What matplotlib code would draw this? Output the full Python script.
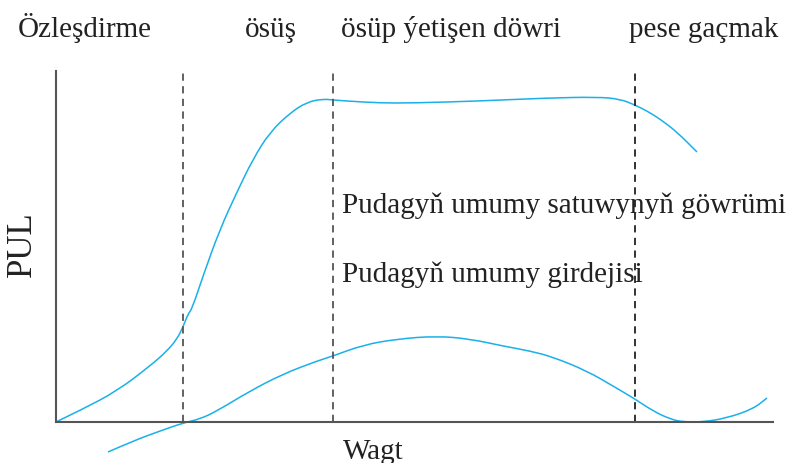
import matplotlib.pyplot as plt
from matplotlib.path import Path
from matplotlib.patches import PathPatch

# time / money values (arbitrary units)
sales_t = [0, 27, 61, 94, 111, 121, 127, 132, 136, 147, 164, 181, 197, 214, 234,
           251, 267, 277, 291, 324, 357, 424, 491, 541, 564, 579, 591, 604, 621, 641]
sales_m = [0, 13, 31, 56, 71, 83, 95, 108, 113, 146, 193, 230, 263, 290, 309,
           320, 323, 322, 321, 319, 319, 321, 324, 325, 323, 317, 311, 303, 290, 270]

profit_t = [52, 77, 104, 127, 144, 161, 194, 227, 261, 277, 307, 341, 381, 414,
            447, 474, 497, 531, 557, 579, 597, 614, 627, 647, 671, 697, 711]
profit_m = [-30, -19, -9, -1, 3, 11, 31, 48, 61, 66, 77, 83, 86, 83,
            76, 71, 65, 51, 36, 23, 11, 3, 0, 0, 4, 13, 24]

phase_bounds = [127, 277, 579]
phase_names = ["Özleşdirme", "ösüş", "ösüp ýetişen döwri", "pese gaçmak"]
phase_x = [18, 245, 341, 629]  # left edge of each header, px

curve_labels = ["Pudagyň umumy satuwynyň göwrümi", "Pudagyň umumy girdejisi"]

W, H = 791, 464
blue = "#1ab0ea"
plt.rcParams["font.family"] = ["Liberation Serif", "DejaVu Serif"]


def smooth_curve(ax, xs, ys, **kw):
    # quadratic bezier through the midpoints, the read points act as controls
    pts = list(zip(xs, ys))
    verts = [pts[0]]
    codes = [Path.MOVETO]
    for i in range(1, len(pts) - 1):
        mid = ((pts[i][0] + pts[i + 1][0]) / 2, (pts[i][1] + pts[i + 1][1]) / 2)
        verts += [pts[i], mid]
        codes += [Path.CURVE3, Path.CURVE3]
    verts.append(pts[-1])
    codes.append(Path.LINETO)
    patch = PathPatch(Path(verts, codes), fill=False, transform=ax.transData,
                      clip_on=False, **kw)
    ax.add_patch(patch)


fig = plt.figure(figsize=(W / 100, H / 100), dpi=100)
ax = fig.add_axes([56 / W, (H - 423) / H, 717 / W, 351 / H])
ax.set_xlim(0, 717)
ax.set_ylim(0, 351)

for s in ["top", "right"]:
    ax.spines[s].set_visible(False)
for s in ["left", "bottom"]:
    ax.spines[s].set_color("#555555")
    ax.spines[s].set_linewidth(1.5)
ax.set_xticks([])
ax.set_yticks([])

smooth_curve(ax, sales_t, sales_m, edgecolor=blue, lw=1.1)
smooth_curve(ax, profit_t, profit_m, edgecolor=blue, lw=1.1)

for i, b in enumerate(phase_bounds):
    c = "#555555" if i < 2 else "#222222"
    ax.axvline(b, color=c, lw=1.3, dashes=(4, 3))

for name, x in zip(phase_names, phase_x):
    fig.text(x / W, 1 - 37 / H, name, fontsize=21, color="#222222",
             ha="left", va="baseline")

fig.text(342 / W, 1 - 213 / H, curve_labels[0], fontsize=21, color="#222222",
         ha="left", va="baseline")
fig.text(342 / W, 1 - 282 / H, curve_labels[1], fontsize=21, color="#222222",
         ha="left", va="baseline")

fig.text(373 / W, 1 - 459 / H, "Wagt", fontsize=21, color="#222222",
         ha="center", va="baseline")
fig.text(22 / W, 1 - 244 / H, "PUL", fontsize=25, color="#222222",
         rotation=90, ha="center", va="center")

fig.savefig("out.png", dpi=100)
